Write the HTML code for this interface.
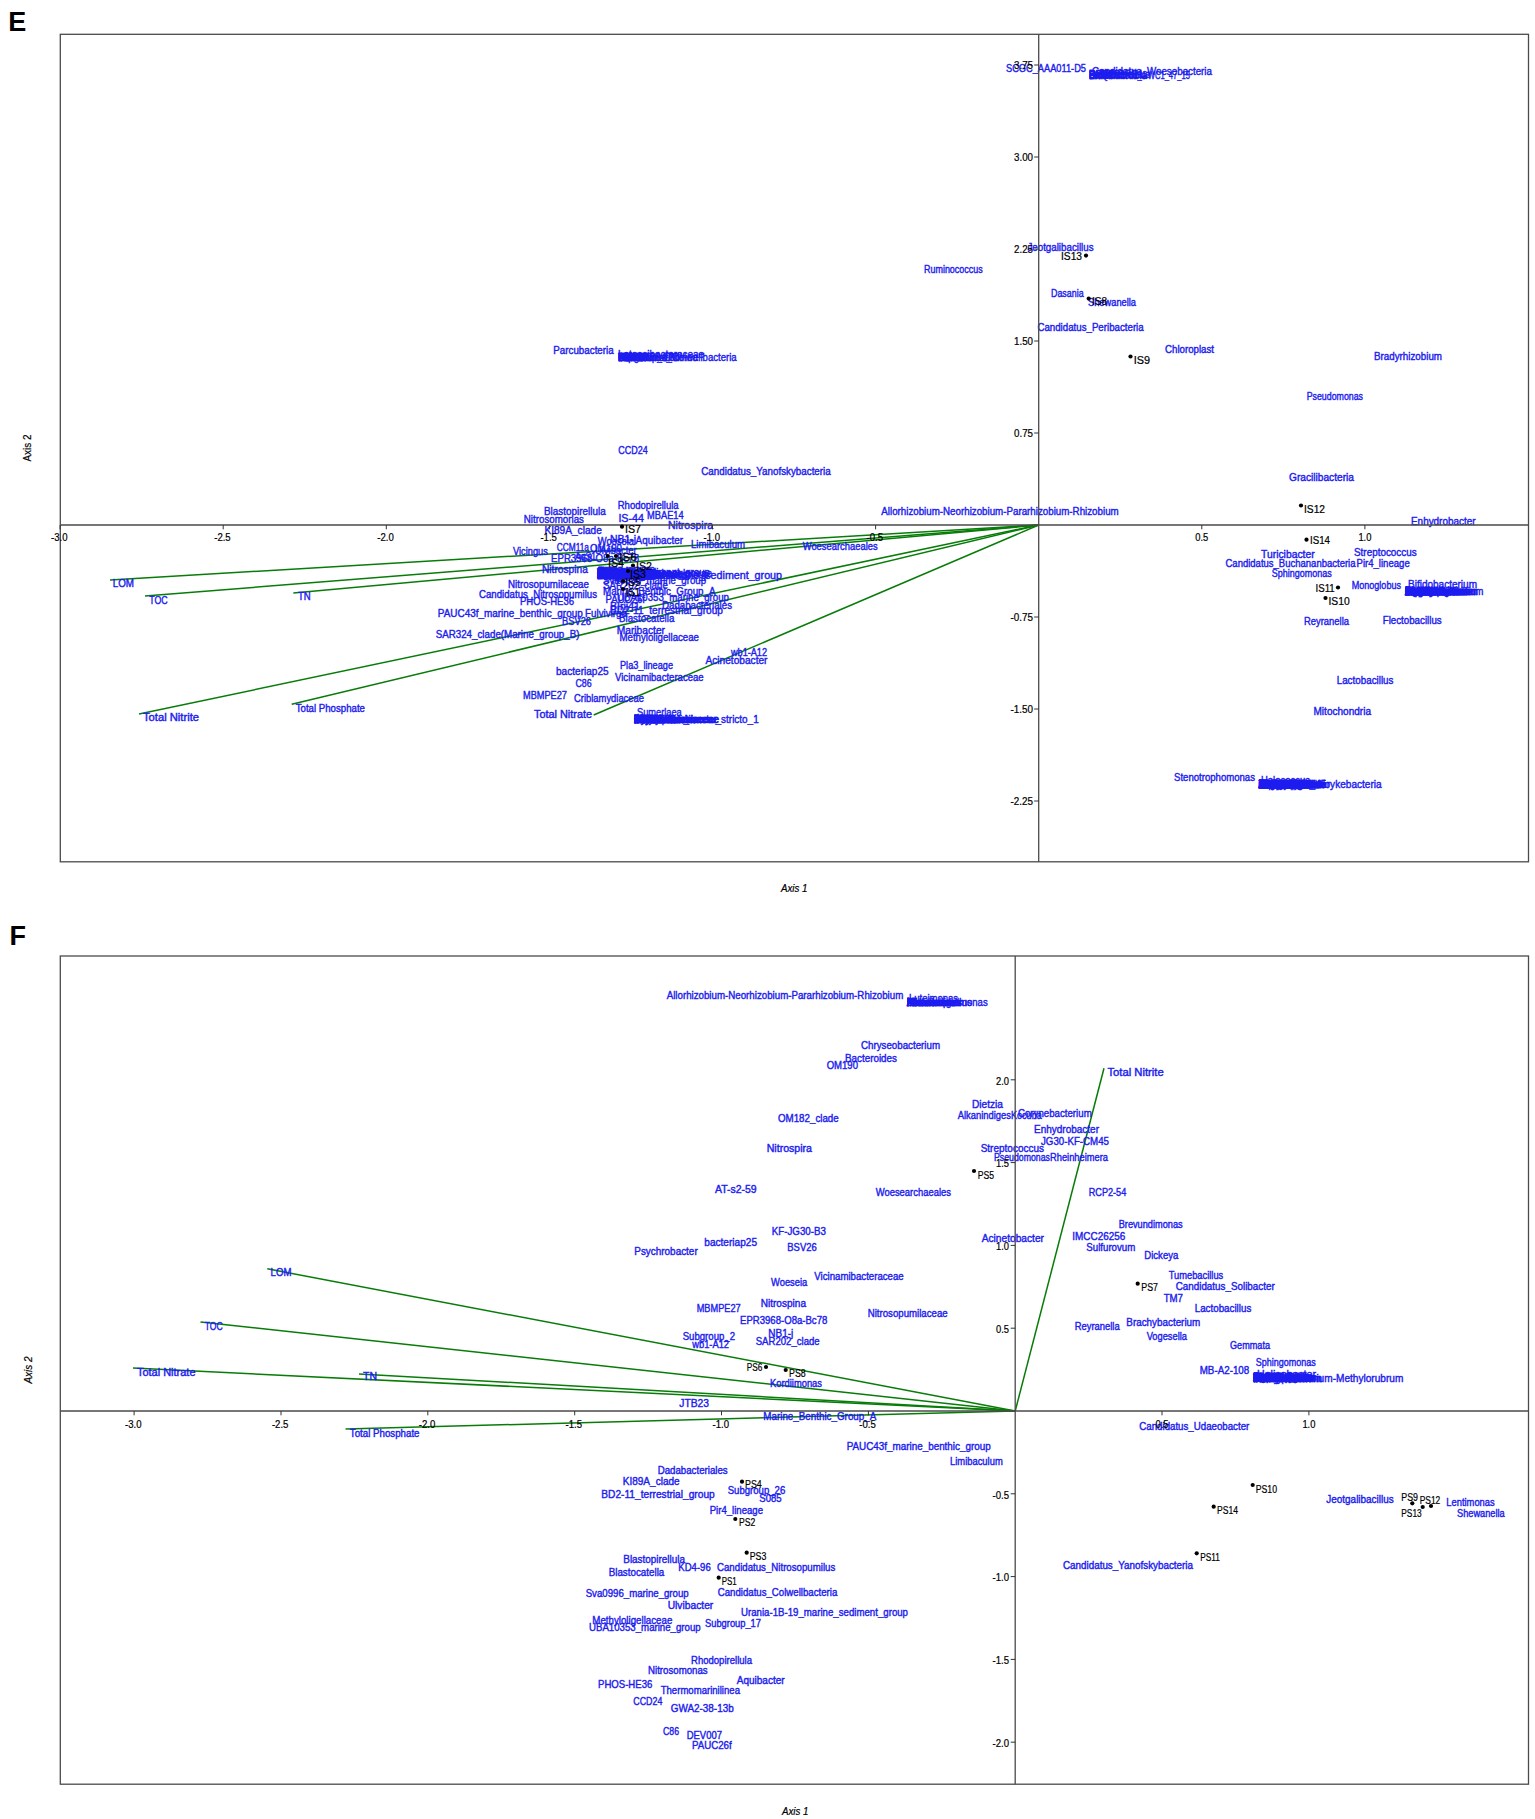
<!DOCTYPE html>
<html lang="en"><head><meta charset="utf-8"><title>Ordination biplots E and F</title>
<style>
html,body{margin:0;padding:0;background:#fff;}
body{width:1535px;height:1819px;overflow:hidden;}
svg{display:block;}
text{font-family:"Liberation Sans",sans-serif;font-size:10.2px;}
text.b{fill:#1c1cf0;stroke:#1c1cf0;stroke-width:0.4px;}
text.k{fill:#000;stroke:#000;stroke-width:0.2px;font-size:10px;}
text.hd{font-weight:bold;font-size:27px;fill:#000;}
</style></head><body>
<svg width="1535" height="1819" viewBox="0 0 1535 1819">
<rect width="1535" height="1819" fill="#fff"/>
<text class="hd" x="8.3" y="30.9">E</text>
<text class="hd" x="9.5" y="945">F</text>
<rect x="60.3" y="34.3" width="1468.2" height="827.5" fill="none" stroke="#4a4a4a" stroke-width="1.3"/>
<line x1="1038.7" y1="525.0" x2="110.0" y2="580.0" stroke="#087c08" stroke-width="1.5"/>
<line x1="1038.7" y1="525.0" x2="145.0" y2="596.0" stroke="#087c08" stroke-width="1.5"/>
<line x1="1038.7" y1="525.0" x2="293.3" y2="593.0" stroke="#087c08" stroke-width="1.5"/>
<line x1="1038.7" y1="525.0" x2="139.0" y2="714.0" stroke="#087c08" stroke-width="1.5"/>
<line x1="1038.7" y1="525.0" x2="291.7" y2="704.3" stroke="#087c08" stroke-width="1.5"/>
<line x1="1038.7" y1="525.0" x2="593.7" y2="715.0" stroke="#087c08" stroke-width="1.5"/>
<text class="b" x="1089.0" y="78.2" textLength="61.3" lengthAdjust="spacingAndGlyphs" font-size="9">Desulfobulbus</text>
<text class="b" x="1089.0" y="78.2" textLength="54.3" lengthAdjust="spacingAndGlyphs" font-size="9">SEEP-SRB1</text>
<text class="b" x="1089.0" y="78.2" textLength="30.6" lengthAdjust="spacingAndGlyphs" font-size="9">B2M28</text>
<text class="b" x="1089.0" y="78.2" textLength="42.5" lengthAdjust="spacingAndGlyphs" font-size="9">Lutibacter</text>
<text class="b" x="618.0" y="360.9" textLength="30.6" lengthAdjust="spacingAndGlyphs" font-size="9">B2M28</text>
<text class="b" x="618.5" y="360.9" textLength="23.7" lengthAdjust="spacingAndGlyphs" font-size="9">AqS1</text>
<text class="b" x="618.2" y="360.9" textLength="27.4" lengthAdjust="spacingAndGlyphs" font-size="9">Haliea</text>
<text class="b" x="597.0" y="575.1" textLength="58.1" lengthAdjust="spacingAndGlyphs" font-size="9">Subgroup_10</text>
<text class="b" x="598.2" y="577.5" textLength="58.1" lengthAdjust="spacingAndGlyphs" font-size="9">Subgroup_22</text>
<text class="b" x="597.8" y="576.1" textLength="52.7" lengthAdjust="spacingAndGlyphs" font-size="9">Subgroup_9</text>
<text class="b" x="597.2" y="578.5" textLength="58.1" lengthAdjust="spacingAndGlyphs" font-size="9">Subgroup_21</text>
<text class="b" x="598.5" y="577.1" textLength="58.1" lengthAdjust="spacingAndGlyphs" font-size="9">Subgroup_23</text>
<text class="b" x="597.5" y="578.2" textLength="61.3" lengthAdjust="spacingAndGlyphs" font-size="9">Desulfobulbus</text>
<text class="b" x="597.0" y="576.8" textLength="64.0" lengthAdjust="spacingAndGlyphs" font-size="9">Desulfosarcina</text>
<text class="b" x="598.2" y="575.4" textLength="54.3" lengthAdjust="spacingAndGlyphs" font-size="9">SEEP-SRB1</text>
<text class="b" x="597.8" y="577.8" textLength="60.7" lengthAdjust="spacingAndGlyphs" font-size="9">Desulfatiglans</text>
<text class="b" x="597.0" y="578.5" textLength="30.6" lengthAdjust="spacingAndGlyphs" font-size="9">B2M28</text>
<text class="b" x="598.2" y="577.1" textLength="23.7" lengthAdjust="spacingAndGlyphs" font-size="9">AqS1</text>
<text class="b" x="597.8" y="575.8" textLength="42.5" lengthAdjust="spacingAndGlyphs" font-size="9">Lutibacter</text>
<text class="b" x="597.2" y="578.2" textLength="44.6" lengthAdjust="spacingAndGlyphs" font-size="9">Lutimonas</text>
<text class="b" x="598.5" y="576.8" textLength="55.9" lengthAdjust="spacingAndGlyphs" font-size="9">Robiginitalea</text>
<text class="b" x="598.0" y="575.4" textLength="50.5" lengthAdjust="spacingAndGlyphs" font-size="9">Halioglobus</text>
<text class="b" x="597.5" y="577.8" textLength="27.4" lengthAdjust="spacingAndGlyphs" font-size="9">Haliea</text>
<text class="b" x="597.0" y="576.5" textLength="60.7" lengthAdjust="spacingAndGlyphs" font-size="9">Sedimenticola</text>
<text class="b" x="598.2" y="575.1" textLength="51.6" lengthAdjust="spacingAndGlyphs" font-size="9">Thiogranum</text>
<text class="b" x="597.0" y="578.2" textLength="62.4" lengthAdjust="spacingAndGlyphs" font-size="9">Spirochaeta_2</text>
<text class="b" x="597.8" y="575.4" textLength="41.9" lengthAdjust="spacingAndGlyphs" font-size="9">Eudoraea</text>
<text class="b" x="597.2" y="577.8" textLength="58.6" lengthAdjust="spacingAndGlyphs" font-size="9">Ilumatobacter</text>
<text class="b" x="598.5" y="576.5" textLength="55.4" lengthAdjust="spacingAndGlyphs" font-size="9">Pirellulaceae</text>
<text class="b" x="598.0" y="575.1" textLength="56.4" lengthAdjust="spacingAndGlyphs" font-size="9">Rubripirellula</text>
<text class="b" x="597.0" y="576.1" textLength="62.4" lengthAdjust="spacingAndGlyphs" font-size="9">Thiohalophilus</text>
<text class="b" x="598.2" y="578.5" textLength="41.4" lengthAdjust="spacingAndGlyphs" font-size="9">SBR1031</text>
<text class="b" x="598.2" y="576.5" textLength="59.7" lengthAdjust="spacingAndGlyphs" font-size="9">Kiloniellaceae</text>
<text class="b" x="598.5" y="576.1" textLength="58.4" lengthAdjust="spacingAndGlyphs" font-size="9">Woeseiaceae</text>
<text class="b" x="598.0" y="578.5" textLength="23.7" lengthAdjust="spacingAndGlyphs" font-size="9">PB19</text>
<text class="b" x="597.5" y="577.1" textLength="52.1" lengthAdjust="spacingAndGlyphs" font-size="9">P9X2b3D02</text>
<text class="b" x="597.0" y="575.8" textLength="35.5" lengthAdjust="spacingAndGlyphs" font-size="9">4572-13</text>
<text class="b" x="597.0" y="575.9" textLength="112.9" lengthAdjust="spacingAndGlyphs" font-size="9">Sva0081_sediment_group</text>
<text class="b" x="598.2" y="578.1" textLength="88.7" lengthAdjust="spacingAndGlyphs" font-size="9">Syntrophobacterales</text>
<text class="b" x="597.8" y="576.9" textLength="84.9" lengthAdjust="spacingAndGlyphs" font-size="9">Desulfosarcinaceae</text>
<text class="b" x="597.2" y="579.1" textLength="76.9" lengthAdjust="spacingAndGlyphs" font-size="9">Zeaxanthinibacter</text>
<text class="b" x="634.0" y="722.7" textLength="41.9" lengthAdjust="spacingAndGlyphs" font-size="9">Eudoraea</text>
<text class="b" x="634.2" y="722.7" textLength="41.4" lengthAdjust="spacingAndGlyphs" font-size="9">SBR1031</text>
<text class="b" x="634.1" y="722.7" textLength="23.7" lengthAdjust="spacingAndGlyphs" font-size="9">PB19</text>
<text class="b" x="634.5" y="722.7" textLength="35.5" lengthAdjust="spacingAndGlyphs" font-size="9">4572-13</text>
<text class="b" x="634.0" y="722.7" textLength="31.7" lengthAdjust="spacingAndGlyphs" font-size="9">MSBL5</text>
<text class="b" x="634.4" y="722.7" textLength="27.9" lengthAdjust="spacingAndGlyphs" font-size="9">SG8-4</text>
<text class="b" x="634.5" y="722.7" textLength="50.0" lengthAdjust="spacingAndGlyphs" font-size="9">Bdellovibrio</text>
<text class="b" x="634.2" y="722.7" textLength="46.2" lengthAdjust="spacingAndGlyphs" font-size="9">Marinicella</text>
<text class="b" x="634.1" y="722.7" textLength="50.5" lengthAdjust="spacingAndGlyphs" font-size="9">Amylibacter</text>
<text class="b" x="633.8" y="722.7" textLength="44.1" lengthAdjust="spacingAndGlyphs" font-size="9">Loktanella</text>
<text class="b" x="634.4" y="722.7" textLength="27.9" lengthAdjust="spacingAndGlyphs" font-size="9">JTB23</text>
<text class="b" x="633.8" y="722.7" textLength="22.6" lengthAdjust="spacingAndGlyphs" font-size="9">S085</text>
<text class="b" x="633.7" y="722.7" textLength="84.9" lengthAdjust="spacingAndGlyphs" font-size="9">Desulfosarcinaceae</text>
<text class="b" x="633.7" y="722.7" textLength="83.8" lengthAdjust="spacingAndGlyphs" font-size="9">Methyloceanibacter</text>
<text class="b" x="633.7" y="722.7" textLength="85.5" lengthAdjust="spacingAndGlyphs" font-size="9">Hyphomicrobiaceae</text>
<text class="b" x="1404.7" y="595.1" textLength="67.7" lengthAdjust="spacingAndGlyphs" font-size="9">Staphylococcus</text>
<text class="b" x="1404.9" y="595.1" textLength="29.6" lengthAdjust="spacingAndGlyphs" font-size="9">Blautia</text>
<text class="b" x="1405.7" y="595.1" textLength="57.5" lengthAdjust="spacingAndGlyphs" font-size="9">Agathobacter</text>
<text class="b" x="1405.4" y="595.1" textLength="43.0" lengthAdjust="spacingAndGlyphs" font-size="9">Prevotella</text>
<text class="b" x="1405.0" y="595.1" textLength="55.9" lengthAdjust="spacingAndGlyphs" font-size="9">Akkermansia</text>
<text class="b" x="1404.7" y="595.1" textLength="44.1" lengthAdjust="spacingAndGlyphs" font-size="9">Roseburia</text>
<text class="b" x="1405.2" y="595.1" textLength="26.3" lengthAdjust="spacingAndGlyphs" font-size="9">Dorea</text>
<text class="b" x="1404.9" y="595.1" textLength="56.4" lengthAdjust="spacingAndGlyphs" font-size="9">Anaerostipes</text>
<text class="b" x="1405.7" y="595.1" textLength="44.1" lengthAdjust="spacingAndGlyphs" font-size="9">Collinsella</text>
<text class="b" x="1405.4" y="595.1" textLength="70.9" lengthAdjust="spacingAndGlyphs" font-size="9">Fusicatenibacter</text>
<text class="b" x="1405.0" y="595.1" textLength="51.6" lengthAdjust="spacingAndGlyphs" font-size="9">Romboutsia</text>
<text class="b" x="1405.5" y="595.1" textLength="56.4" lengthAdjust="spacingAndGlyphs" font-size="9">Haemophilus</text>
<text class="b" x="1405.2" y="595.1" textLength="43.5" lengthAdjust="spacingAndGlyphs" font-size="9">Veillonella</text>
<text class="b" x="1404.9" y="595.1" textLength="34.9" lengthAdjust="spacingAndGlyphs" font-size="9">Dialister</text>
<text class="b" x="1405.7" y="595.1" textLength="56.4" lengthAdjust="spacingAndGlyphs" font-size="9">Coprococcus</text>
<text class="b" x="1405.4" y="595.1" textLength="59.7" lengthAdjust="spacingAndGlyphs" font-size="9">Cutibacterium</text>
<text class="b" x="1405.0" y="595.1" textLength="53.7" lengthAdjust="spacingAndGlyphs" font-size="9">Micrococcus</text>
<text class="b" x="1404.7" y="595.1" textLength="32.8" lengthAdjust="spacingAndGlyphs" font-size="9">Kocuria</text>
<text class="b" x="1405.5" y="595.1" textLength="29.6" lengthAdjust="spacingAndGlyphs" font-size="9">Dietzia</text>
<text class="b" x="1405.2" y="595.1" textLength="67.2" lengthAdjust="spacingAndGlyphs" font-size="9">Brevundimonas</text>
<text class="b" x="1404.9" y="595.1" textLength="54.8" lengthAdjust="spacingAndGlyphs" font-size="9">Alkanindiges</text>
<text class="b" x="1405.7" y="595.1" textLength="60.2" lengthAdjust="spacingAndGlyphs" font-size="9">Rheinheimera</text>
<text class="b" x="1405.4" y="595.1" textLength="57.0" lengthAdjust="spacingAndGlyphs" font-size="9">Macrococcus</text>
<text class="b" x="1405.0" y="595.1" textLength="63.4" lengthAdjust="spacingAndGlyphs" font-size="9">Anaerobacillus</text>
<text class="b" x="1404.7" y="595.1" textLength="50.5" lengthAdjust="spacingAndGlyphs" font-size="9">Paracoccus</text>
<text class="b" x="1405.5" y="595.1" textLength="34.9" lengthAdjust="spacingAndGlyphs" font-size="9">Massilia</text>
<text class="b" x="1405.2" y="595.1" textLength="40.3" lengthAdjust="spacingAndGlyphs" font-size="9">Ralstonia</text>
<text class="b" x="1405.4" y="595.1" textLength="27.4" lengthAdjust="spacingAndGlyphs" font-size="9">Delftia</text>
<text class="b" x="1405.0" y="595.1" textLength="65.0" lengthAdjust="spacingAndGlyphs" font-size="9">Aquabacterium</text>
<text class="b" x="1404.7" y="595.1" textLength="48.4" lengthAdjust="spacingAndGlyphs" font-size="9">Pelomonas</text>
<text class="b" x="1405.5" y="595.1" textLength="33.3" lengthAdjust="spacingAndGlyphs" font-size="9">Bacillus</text>
<text class="b" x="1404.9" y="595.1" textLength="54.8" lengthAdjust="spacingAndGlyphs" font-size="9">Planococcus</text>
<text class="b" x="1405.7" y="595.1" textLength="28.0" lengthAdjust="spacingAndGlyphs" font-size="9">Rothia</text>
<text class="b" x="1258.5" y="787.7" textLength="56.4" lengthAdjust="spacingAndGlyphs" font-size="9">Anaerostipes</text>
<text class="b" x="1259.3" y="787.7" textLength="44.1" lengthAdjust="spacingAndGlyphs" font-size="9">Collinsella</text>
<text class="b" x="1259.0" y="787.7" textLength="70.9" lengthAdjust="spacingAndGlyphs" font-size="9">Fusicatenibacter</text>
<text class="b" x="1258.7" y="787.7" textLength="51.6" lengthAdjust="spacingAndGlyphs" font-size="9">Romboutsia</text>
<text class="b" x="1259.2" y="787.7" textLength="56.4" lengthAdjust="spacingAndGlyphs" font-size="9">Haemophilus</text>
<text class="b" x="1258.8" y="787.7" textLength="43.5" lengthAdjust="spacingAndGlyphs" font-size="9">Veillonella</text>
<text class="b" x="1258.5" y="787.7" textLength="34.9" lengthAdjust="spacingAndGlyphs" font-size="9">Dialister</text>
<text class="b" x="1259.3" y="787.7" textLength="56.4" lengthAdjust="spacingAndGlyphs" font-size="9">Coprococcus</text>
<text class="b" x="1259.0" y="787.7" textLength="59.7" lengthAdjust="spacingAndGlyphs" font-size="9">Cutibacterium</text>
<text class="b" x="1258.7" y="787.7" textLength="53.7" lengthAdjust="spacingAndGlyphs" font-size="9">Micrococcus</text>
<text class="b" x="1259.5" y="787.7" textLength="32.8" lengthAdjust="spacingAndGlyphs" font-size="9">Kocuria</text>
<text class="b" x="1259.2" y="787.7" textLength="29.6" lengthAdjust="spacingAndGlyphs" font-size="9">Dietzia</text>
<text class="b" x="1258.8" y="787.7" textLength="67.2" lengthAdjust="spacingAndGlyphs" font-size="9">Brevundimonas</text>
<text class="b" x="1258.5" y="787.7" textLength="54.8" lengthAdjust="spacingAndGlyphs" font-size="9">Alkanindiges</text>
<text class="b" x="1259.3" y="787.7" textLength="60.2" lengthAdjust="spacingAndGlyphs" font-size="9">Rheinheimera</text>
<text class="b" x="1259.0" y="787.7" textLength="57.0" lengthAdjust="spacingAndGlyphs" font-size="9">Macrococcus</text>
<text class="b" x="1258.7" y="787.7" textLength="63.4" lengthAdjust="spacingAndGlyphs" font-size="9">Anaerobacillus</text>
<text class="b" x="1259.5" y="787.7" textLength="50.5" lengthAdjust="spacingAndGlyphs" font-size="9">Paracoccus</text>
<text class="b" x="1259.2" y="787.7" textLength="34.9" lengthAdjust="spacingAndGlyphs" font-size="9">Massilia</text>
<text class="b" x="1258.8" y="787.7" textLength="40.3" lengthAdjust="spacingAndGlyphs" font-size="9">Ralstonia</text>
<text class="b" x="1259.0" y="787.7" textLength="27.4" lengthAdjust="spacingAndGlyphs" font-size="9">Delftia</text>
<text class="b" x="1258.7" y="787.7" textLength="65.0" lengthAdjust="spacingAndGlyphs" font-size="9">Aquabacterium</text>
<text class="b" x="1259.5" y="787.7" textLength="48.4" lengthAdjust="spacingAndGlyphs" font-size="9">Pelomonas</text>
<text class="b" x="1259.2" y="787.7" textLength="33.3" lengthAdjust="spacingAndGlyphs" font-size="9">Bacillus</text>
<text class="b" x="1258.5" y="787.7" textLength="54.8" lengthAdjust="spacingAndGlyphs" font-size="9">Planococcus</text>
<text class="b" x="1259.3" y="787.7" textLength="28.0" lengthAdjust="spacingAndGlyphs" font-size="9">Rothia</text>
<text class="b" x="1259.0" y="787.7" textLength="40.3" lengthAdjust="spacingAndGlyphs" font-size="9">Neisseria</text>
<text class="b" x="1258.7" y="787.7" textLength="36.0" lengthAdjust="spacingAndGlyphs" font-size="9">Gemella</text>
<text class="b" x="1259.5" y="787.7" textLength="59.1" lengthAdjust="spacingAndGlyphs" font-size="9">Granulicatella</text>
<text class="b" x="1259.2" y="787.7" textLength="54.8" lengthAdjust="spacingAndGlyphs" font-size="9">Actinomyces</text>
<text class="b" x="1258.8" y="787.7" textLength="48.4" lengthAdjust="spacingAndGlyphs" font-size="9">Lawsonella</text>
<text class="b" x="1258.5" y="787.7" textLength="61.3" lengthAdjust="spacingAndGlyphs" font-size="9">Anaerococcus</text>
<text class="b" x="1259.3" y="787.7" textLength="44.6" lengthAdjust="spacingAndGlyphs" font-size="9">Finegoldia</text>
<text class="b" x="1259.0" y="787.7" textLength="58.1" lengthAdjust="spacingAndGlyphs" font-size="9">Peptoniphilus</text>
<text class="b" x="1259.2" y="787.7" textLength="56.6" lengthAdjust="spacingAndGlyphs" font-size="9">Tumebacillus</text>
<text class="b" x="1258.8" y="787.7" textLength="41.9" lengthAdjust="spacingAndGlyphs" font-size="9">Vogesella</text>
<text class="b" x="1258.5" y="787.7" textLength="42.4" lengthAdjust="spacingAndGlyphs" font-size="9">Gemmata</text>
<text class="b" x="1259.3" y="787.7" textLength="34.4" lengthAdjust="spacingAndGlyphs" font-size="9">Dickeya</text>
<text class="b" x="1259.0" y="787.7" textLength="48.9" lengthAdjust="spacingAndGlyphs" font-size="9">Sulfurovum</text>
<text class="b" x="1258.7" y="787.7" textLength="50.0" lengthAdjust="spacingAndGlyphs" font-size="9">Luteimonas</text>
<text class="b" x="1259.5" y="787.7" textLength="51.1" lengthAdjust="spacingAndGlyphs" font-size="9">Bacteroides</text>
<text class="b" x="1259.2" y="787.7" textLength="61.3" lengthAdjust="spacingAndGlyphs" font-size="9">Streptococcus</text>
<text class="b" x="1258.8" y="787.7" textLength="62.9" lengthAdjust="spacingAndGlyphs" font-size="9">Enhydrobacter</text>
<text class="b" x="1258.5" y="787.7" textLength="67.7" lengthAdjust="spacingAndGlyphs" font-size="9">JG30-KF-CM45</text>
<text class="b" x="1259.3" y="787.7" textLength="51.6" lengthAdjust="spacingAndGlyphs" font-size="9">IMCC26256</text>
<text class="b" x="1259.0" y="787.7" textLength="39.8" lengthAdjust="spacingAndGlyphs" font-size="9">RCP2-54</text>
<text class="b" x="1258.7" y="787.7" textLength="19.3" lengthAdjust="spacingAndGlyphs" font-size="9">TM7</text>
<text class="b" x="1259.5" y="787.7" textLength="48.9" lengthAdjust="spacingAndGlyphs" font-size="9">MB-A2-108</text>
<text class="b" x="1006.0" y="71.6" textLength="80.0" lengthAdjust="spacingAndGlyphs">SCGC_AAA011-D5</text>
<text class="b" x="1092.0" y="74.6" textLength="120.0" lengthAdjust="spacingAndGlyphs">Candidatus_Woesebacteria</text>
<text class="b" x="1089.0" y="78.6" textLength="101.0" lengthAdjust="spacingAndGlyphs">Berkelbacteria_GWC1_47_15</text>
<text class="b" x="1089.0" y="78.6" textLength="58.0" lengthAdjust="spacingAndGlyphs">Elusimicrobia</text>
<text class="b" x="1089.0" y="78.6" textLength="24.0" lengthAdjust="spacingAndGlyphs">LWQ8</text>
<text class="b" x="1027.4" y="250.6" textLength="66.2" lengthAdjust="spacingAndGlyphs">Jeotgalibacillus</text>
<text class="b" x="924.0" y="273.2" textLength="58.7" lengthAdjust="spacingAndGlyphs">Ruminococcus</text>
<text class="b" x="1051.0" y="297.2" textLength="32.6" lengthAdjust="spacingAndGlyphs">Dasania</text>
<text class="b" x="1088.0" y="305.9" textLength="48.0" lengthAdjust="spacingAndGlyphs">Shewanella</text>
<text class="b" x="1037.4" y="330.6" textLength="106.3" lengthAdjust="spacingAndGlyphs">Candidatus_Peribacteria</text>
<text class="b" x="1165.0" y="353.1" textLength="49.0" lengthAdjust="spacingAndGlyphs">Chloroplast</text>
<text class="b" x="1374.0" y="359.6" textLength="68.0" lengthAdjust="spacingAndGlyphs">Bradyrhizobium</text>
<text class="b" x="1306.7" y="400.3" textLength="56.3" lengthAdjust="spacingAndGlyphs">Pseudomonas</text>
<text class="b" x="1289.0" y="480.9" textLength="65.0" lengthAdjust="spacingAndGlyphs">Gracilibacteria</text>
<text class="b" x="553.3" y="354.3" textLength="60.4" lengthAdjust="spacingAndGlyphs">Parcubacteria</text>
<text class="b" x="618.0" y="357.6" textLength="86.0" lengthAdjust="spacingAndGlyphs">Latescibacteraceae</text>
<text class="b" x="618.0" y="361.3" textLength="118.7" lengthAdjust="spacingAndGlyphs">Candidatus_Colwellbacteria</text>
<text class="b" x="618.0" y="361.3" textLength="54.0" lengthAdjust="spacingAndGlyphs">Subgroup_17</text>
<text class="b" x="618.0" y="361.3" textLength="62.0" lengthAdjust="spacingAndGlyphs">GWA2-38-13b</text>
<text class="b" x="618.0" y="361.3" textLength="80.0" lengthAdjust="spacingAndGlyphs">Thermomarinilinea</text>
<text class="b" x="618.0" y="361.3" textLength="35.0" lengthAdjust="spacingAndGlyphs">DEV007</text>
<text class="b" x="618.0" y="361.3" textLength="32.0" lengthAdjust="spacingAndGlyphs">KD4-96</text>
<text class="b" x="618.3" y="453.6" textLength="29.4" lengthAdjust="spacingAndGlyphs">CCD24</text>
<text class="b" x="701.3" y="474.6" textLength="129.4" lengthAdjust="spacingAndGlyphs">Candidatus_Yanofskybacteria</text>
<text class="b" x="617.7" y="508.6" textLength="61.0" lengthAdjust="spacingAndGlyphs">Rhodopirellula</text>
<text class="b" x="544.0" y="515.3" textLength="61.7" lengthAdjust="spacingAndGlyphs">Blastopirellula</text>
<text class="b" x="647.0" y="518.6" textLength="36.7" lengthAdjust="spacingAndGlyphs">MBAE14</text>
<text class="b" x="523.8" y="522.5" textLength="60.2" lengthAdjust="spacingAndGlyphs">Nitrosomonas</text>
<text class="b" x="618.4" y="522.0" textLength="25.6" lengthAdjust="spacingAndGlyphs">IS-44</text>
<text class="b" x="668.0" y="528.6" textLength="45.0" lengthAdjust="spacingAndGlyphs">Nitrospira</text>
<text class="b" x="544.4" y="534.0" textLength="57.4" lengthAdjust="spacingAndGlyphs">KI89A_clade</text>
<text class="b" x="610.0" y="542.9" textLength="26.0" lengthAdjust="spacingAndGlyphs">NB1-j</text>
<text class="b" x="635.5" y="543.6" textLength="47.5" lengthAdjust="spacingAndGlyphs">Aquibacter</text>
<text class="b" x="597.8" y="545.1" textLength="36.2" lengthAdjust="spacingAndGlyphs">Woeseia</text>
<text class="b" x="691.0" y="548.0" textLength="54.0" lengthAdjust="spacingAndGlyphs">Limibaculum</text>
<text class="b" x="556.7" y="551.4" textLength="32.3" lengthAdjust="spacingAndGlyphs">CCM11a</text>
<text class="b" x="590.0" y="551.6" textLength="32.0" lengthAdjust="spacingAndGlyphs">OM190</text>
<text class="b" x="595.0" y="553.6" textLength="41.7" lengthAdjust="spacingAndGlyphs">Ulvibacter</text>
<text class="b" x="513.0" y="555.1" textLength="34.8" lengthAdjust="spacingAndGlyphs">Vicingus</text>
<text class="b" x="551.0" y="561.6" textLength="88.0" lengthAdjust="spacingAndGlyphs">EPR3968-O8a-Bc78</text>
<text class="b" x="575.0" y="559.6" textLength="21.0" lengthAdjust="spacingAndGlyphs">AqS1</text>
<text class="b" x="542.0" y="573.1" textLength="45.8" lengthAdjust="spacingAndGlyphs">Nitrospina</text>
<text class="b" x="597.0" y="578.6" textLength="185.0" lengthAdjust="spacingAndGlyphs">Urania-1B-19_marine_sediment_group</text>
<text class="b" x="597.0" y="576.6" textLength="58.0" lengthAdjust="spacingAndGlyphs">Subgroup_26</text>
<text class="b" x="597.0" y="576.6" textLength="115.0" lengthAdjust="spacingAndGlyphs">Thermoanaerobaculaceae</text>
<text class="b" x="597.0" y="577.6" textLength="112.0" lengthAdjust="spacingAndGlyphs">UBA10353_marine_group</text>
<text class="b" x="597.0" y="578.6" textLength="53.0" lengthAdjust="spacingAndGlyphs">Pir4_lineage</text>
<text class="b" x="597.0" y="577.6" textLength="30.0" lengthAdjust="spacingAndGlyphs">JTB23</text>
<text class="b" x="597.0" y="578.6" textLength="52.0" lengthAdjust="spacingAndGlyphs">Kordiimonas</text>
<text class="b" x="597.0" y="576.6" textLength="22.0" lengthAdjust="spacingAndGlyphs">S085</text>
<text class="b" x="597.0" y="578.1" textLength="52.0" lengthAdjust="spacingAndGlyphs">Subgroup_2</text>
<text class="b" x="597.0" y="578.4" textLength="63.0" lengthAdjust="spacingAndGlyphs">Psychrobacter</text>
<text class="b" x="597.0" y="577.1" textLength="54.0" lengthAdjust="spacingAndGlyphs">KF-JG30-B3</text>
<text class="b" x="597.0" y="578.1" textLength="42.0" lengthAdjust="spacingAndGlyphs">AT-s2-59</text>
<text class="b" x="603.0" y="583.6" textLength="103.0" lengthAdjust="spacingAndGlyphs">Sva0996_marine_group</text>
<text class="b" x="508.0" y="588.0" textLength="81.0" lengthAdjust="spacingAndGlyphs">Nitrosopumilaceae</text>
<text class="b" x="603.0" y="588.6" textLength="64.8" lengthAdjust="spacingAndGlyphs">SAR202_clade</text>
<text class="b" x="479.0" y="598.0" textLength="118.0" lengthAdjust="spacingAndGlyphs">Candidatus_Nitrosopumilus</text>
<text class="b" x="603.0" y="594.6" textLength="112.5" lengthAdjust="spacingAndGlyphs">Marine_Benthic_Group_A</text>
<text class="b" x="520.0" y="605.4" textLength="54.0" lengthAdjust="spacingAndGlyphs">PHOS-HE36</text>
<text class="b" x="605.5" y="602.6" textLength="39.5" lengthAdjust="spacingAndGlyphs">PAUC26f</text>
<text class="b" x="617.0" y="600.6" textLength="112.0" lengthAdjust="spacingAndGlyphs">UBA10353_marine_group</text>
<text class="b" x="662.0" y="609.1" textLength="70.0" lengthAdjust="spacingAndGlyphs">Dadabacteriales</text>
<text class="b" x="610.0" y="613.6" textLength="113.0" lengthAdjust="spacingAndGlyphs">BD2-11_terrestrial_group</text>
<text class="b" x="610.0" y="610.3" textLength="30.0" lengthAdjust="spacingAndGlyphs">BIrii41</text>
<text class="b" x="437.8" y="617.4" textLength="144.9" lengthAdjust="spacingAndGlyphs">PAUC43f_marine_benthic_group</text>
<text class="b" x="585.0" y="616.6" textLength="42.0" lengthAdjust="spacingAndGlyphs">Fulvivirga</text>
<text class="b" x="619.0" y="621.6" textLength="55.4" lengthAdjust="spacingAndGlyphs">Blastocatella</text>
<text class="b" x="562.0" y="625.1" textLength="29.0" lengthAdjust="spacingAndGlyphs">BSV26</text>
<text class="b" x="616.7" y="633.6" textLength="48.3" lengthAdjust="spacingAndGlyphs">Maribacter</text>
<text class="b" x="435.7" y="638.1" textLength="143.8" lengthAdjust="spacingAndGlyphs">SAR324_clade(Marine_group_B)</text>
<text class="b" x="619.5" y="641.1" textLength="79.5" lengthAdjust="spacingAndGlyphs">Methyloligellaceae</text>
<text class="b" x="731.0" y="655.6" textLength="36.0" lengthAdjust="spacingAndGlyphs">wb1-A12</text>
<text class="b" x="705.5" y="663.6" textLength="62.0" lengthAdjust="spacingAndGlyphs">Acinetobacter</text>
<text class="b" x="620.0" y="668.6" textLength="53.0" lengthAdjust="spacingAndGlyphs">Pla3_lineage</text>
<text class="b" x="556.0" y="674.6" textLength="52.7" lengthAdjust="spacingAndGlyphs">bacteriap25</text>
<text class="b" x="615.0" y="680.6" textLength="88.7" lengthAdjust="spacingAndGlyphs">Vicinamibacteraceae</text>
<text class="b" x="575.5" y="687.3" textLength="16.2" lengthAdjust="spacingAndGlyphs">C86</text>
<text class="b" x="523.0" y="698.6" textLength="44.0" lengthAdjust="spacingAndGlyphs">MBMPE27</text>
<text class="b" x="574.0" y="701.6" textLength="70.0" lengthAdjust="spacingAndGlyphs">Criblamydiaceae</text>
<text class="b" x="534.0" y="718.1" textLength="58.0" lengthAdjust="spacingAndGlyphs">Total Nitrate</text>
<text class="b" x="637.0" y="715.6" textLength="44.7" lengthAdjust="spacingAndGlyphs">Sumerlaea</text>
<text class="b" x="633.7" y="723.1" textLength="125.0" lengthAdjust="spacingAndGlyphs">Clostridium_sensu_stricto_1</text>
<text class="b" x="633.7" y="723.1" textLength="78.3" lengthAdjust="spacingAndGlyphs">Phycisphaeraceae</text>
<text class="b" x="633.7" y="723.1" textLength="63.3" lengthAdjust="spacingAndGlyphs">Psychrobacter</text>
<text class="b" x="633.7" y="723.1" textLength="69.3" lengthAdjust="spacingAndGlyphs">Planococcaceae</text>
<text class="b" x="633.7" y="723.1" textLength="56.3" lengthAdjust="spacingAndGlyphs">Polaribacter</text>
<text class="b" x="881.3" y="515.3" textLength="237.4" lengthAdjust="spacingAndGlyphs">Allorhizobium-Neorhizobium-Pararhizobium-Rhizobium</text>
<text class="b" x="802.7" y="550.3" textLength="75.0" lengthAdjust="spacingAndGlyphs">Woesearchaeales</text>
<text class="b" x="112.7" y="586.9" textLength="21.3" lengthAdjust="spacingAndGlyphs">LOM</text>
<text class="b" x="149.3" y="603.6" textLength="18.4" lengthAdjust="spacingAndGlyphs">TOC</text>
<text class="b" x="298.0" y="600.3" textLength="12.7" lengthAdjust="spacingAndGlyphs">TN</text>
<text class="b" x="143.0" y="721.3" textLength="56.0" lengthAdjust="spacingAndGlyphs">Total Nitrite</text>
<text class="b" x="295.7" y="711.9" textLength="69.3" lengthAdjust="spacingAndGlyphs">Total Phosphate</text>
<text class="b" x="1411.0" y="525.1" textLength="64.5" lengthAdjust="spacingAndGlyphs">Enhydrobacter</text>
<text class="b" x="1261.0" y="557.6" textLength="53.7" lengthAdjust="spacingAndGlyphs">Turicibacter</text>
<text class="b" x="1354.0" y="556.1" textLength="62.7" lengthAdjust="spacingAndGlyphs">Streptococcus</text>
<text class="b" x="1225.5" y="566.6" textLength="130.0" lengthAdjust="spacingAndGlyphs">Candidatus_Buchananbacteria</text>
<text class="b" x="1356.5" y="567.3" textLength="53.2" lengthAdjust="spacingAndGlyphs">Pir4_lineage</text>
<text class="b" x="1271.7" y="577.3" textLength="60.0" lengthAdjust="spacingAndGlyphs">Sphingomonas</text>
<text class="b" x="1351.7" y="588.6" textLength="49.3" lengthAdjust="spacingAndGlyphs">Monoglobus</text>
<text class="b" x="1408.0" y="588.1" textLength="69.0" lengthAdjust="spacingAndGlyphs">Bifidobacterium</text>
<text class="b" x="1404.7" y="595.3" textLength="78.8" lengthAdjust="spacingAndGlyphs">Propionibacterium</text>
<text class="b" x="1404.7" y="595.3" textLength="65.3" lengthAdjust="spacingAndGlyphs">Staphylococcus</text>
<text class="b" x="1404.7" y="595.3" textLength="73.3" lengthAdjust="spacingAndGlyphs">Corynebacterium</text>
<text class="b" x="1404.7" y="595.3" textLength="71.3" lengthAdjust="spacingAndGlyphs">Faecalibacterium</text>
<text class="b" x="1404.7" y="595.3" textLength="31.3" lengthAdjust="spacingAndGlyphs">Blautia</text>
<text class="b" x="1304.0" y="625.3" textLength="45.0" lengthAdjust="spacingAndGlyphs">Reyranella</text>
<text class="b" x="1382.7" y="624.3" textLength="59.0" lengthAdjust="spacingAndGlyphs">Flectobacillus</text>
<text class="b" x="1336.7" y="684.1" textLength="56.8" lengthAdjust="spacingAndGlyphs">Lactobacillus</text>
<text class="b" x="1313.5" y="714.6" textLength="57.5" lengthAdjust="spacingAndGlyphs">Mitochondria</text>
<text class="b" x="1174.0" y="780.6" textLength="81.0" lengthAdjust="spacingAndGlyphs">Stenotrophomonas</text>
<text class="b" x="1261.0" y="783.6" textLength="49.0" lengthAdjust="spacingAndGlyphs">Halococcus</text>
<text class="b" x="1258.5" y="788.1" textLength="123.2" lengthAdjust="spacingAndGlyphs">Candidatus_Woykebacteria</text>
<text class="b" x="1258.5" y="788.1" textLength="55.5" lengthAdjust="spacingAndGlyphs">Macrococcus</text>
<text class="b" x="1258.5" y="788.1" textLength="65.5" lengthAdjust="spacingAndGlyphs">Anaerobacillus</text>
<text class="b" x="1258.5" y="788.1" textLength="53.5" lengthAdjust="spacingAndGlyphs">Micrococcus</text>
<text class="b" x="1258.5" y="788.1" textLength="64.5" lengthAdjust="spacingAndGlyphs">Brevundimonas</text>
<text class="b" x="1258.5" y="788.1" textLength="53.5" lengthAdjust="spacingAndGlyphs">Alkanindiges</text>
<text class="b" x="1258.5" y="788.1" textLength="58.5" lengthAdjust="spacingAndGlyphs">Rheinheimera</text>
<text class="b" x="1258.5" y="788.1" textLength="67.5" lengthAdjust="spacingAndGlyphs">JG30-KF-CM45</text>
<line x1="1038.7" y1="34.3" x2="1038.7" y2="861.8" stroke="#4a4a4a" stroke-width="1.3"/>
<line x1="60.3" y1="525.0" x2="1528.5" y2="525.0" stroke="#4a4a4a" stroke-width="1.3"/>
<line x1="60.1" y1="525.0" x2="60.1" y2="529.3" stroke="#333" stroke-width="1"/>
<text class="k" x="51.1" y="541.1" textLength="16.5" lengthAdjust="spacingAndGlyphs">-3.0</text>
<line x1="223.2" y1="525.0" x2="223.2" y2="529.3" stroke="#333" stroke-width="1"/>
<text class="k" x="214.2" y="541.1" textLength="16.5" lengthAdjust="spacingAndGlyphs">-2.5</text>
<line x1="386.3" y1="525.0" x2="386.3" y2="529.3" stroke="#333" stroke-width="1"/>
<text class="k" x="377.3" y="541.1" textLength="16.5" lengthAdjust="spacingAndGlyphs">-2.0</text>
<line x1="549.4" y1="525.0" x2="549.4" y2="529.3" stroke="#333" stroke-width="1"/>
<text class="k" x="540.4" y="541.1" textLength="16.5" lengthAdjust="spacingAndGlyphs">-1.5</text>
<line x1="712.5" y1="525.0" x2="712.5" y2="529.3" stroke="#333" stroke-width="1"/>
<text class="k" x="703.5" y="541.1" textLength="16.5" lengthAdjust="spacingAndGlyphs">-1.0</text>
<line x1="875.6" y1="525.0" x2="875.6" y2="529.3" stroke="#333" stroke-width="1"/>
<text class="k" x="866.6" y="541.1" textLength="16.5" lengthAdjust="spacingAndGlyphs">-0.5</text>
<line x1="1201.8" y1="525.0" x2="1201.8" y2="529.3" stroke="#333" stroke-width="1"/>
<text class="k" x="1195.3" y="541.1" textLength="13.0" lengthAdjust="spacingAndGlyphs">0.5</text>
<line x1="1364.9" y1="525.0" x2="1364.9" y2="529.3" stroke="#333" stroke-width="1"/>
<text class="k" x="1358.4" y="541.1" textLength="13.0" lengthAdjust="spacingAndGlyphs">1.0</text>
<line x1="1034.2" y1="65.0" x2="1038.7" y2="65.0" stroke="#333" stroke-width="1"/>
<text class="k" x="1014.0" y="69.4" textLength="19.0" lengthAdjust="spacingAndGlyphs">3.75</text>
<line x1="1034.2" y1="157.0" x2="1038.7" y2="157.0" stroke="#333" stroke-width="1"/>
<text class="k" x="1014.0" y="161.4" textLength="19.0" lengthAdjust="spacingAndGlyphs">3.00</text>
<line x1="1034.2" y1="249.0" x2="1038.7" y2="249.0" stroke="#333" stroke-width="1"/>
<text class="k" x="1014.0" y="253.4" textLength="19.0" lengthAdjust="spacingAndGlyphs">2.25</text>
<line x1="1034.2" y1="341.0" x2="1038.7" y2="341.0" stroke="#333" stroke-width="1"/>
<text class="k" x="1014.0" y="345.4" textLength="19.0" lengthAdjust="spacingAndGlyphs">1.50</text>
<line x1="1034.2" y1="433.0" x2="1038.7" y2="433.0" stroke="#333" stroke-width="1"/>
<text class="k" x="1014.0" y="437.4" textLength="19.0" lengthAdjust="spacingAndGlyphs">0.75</text>
<line x1="1034.2" y1="617.0" x2="1038.7" y2="617.0" stroke="#333" stroke-width="1"/>
<text class="k" x="1010.5" y="621.4" textLength="22.5" lengthAdjust="spacingAndGlyphs">-0.75</text>
<line x1="1034.2" y1="709.0" x2="1038.7" y2="709.0" stroke="#333" stroke-width="1"/>
<text class="k" x="1010.5" y="713.4" textLength="22.5" lengthAdjust="spacingAndGlyphs">-1.50</text>
<line x1="1034.2" y1="801.0" x2="1038.7" y2="801.0" stroke="#333" stroke-width="1"/>
<text class="k" x="1010.5" y="805.4" textLength="22.5" lengthAdjust="spacingAndGlyphs">-2.25</text>
<circle cx="1086.0" cy="255.6" r="2.1" fill="#000"/>
<text class="k" x="1061.0" y="260.0" textLength="21.0" lengthAdjust="spacingAndGlyphs" font-size="9.8">IS13</text>
<circle cx="1088.7" cy="298.6" r="2.1" fill="#000"/>
<text class="k" x="1092.0" y="304.6" textLength="15.0" lengthAdjust="spacingAndGlyphs" font-size="9.8">IS8</text>
<circle cx="1130.5" cy="356.5" r="2.1" fill="#000"/>
<text class="k" x="1133.7" y="363.6" textLength="16.3" lengthAdjust="spacingAndGlyphs" font-size="9.8">IS9</text>
<circle cx="622.0" cy="526.7" r="2.1" fill="#000"/>
<text class="k" x="625.0" y="533.1" textLength="16.0" lengthAdjust="spacingAndGlyphs" font-size="9.8">IS7</text>
<circle cx="1301.0" cy="505.5" r="2.1" fill="#000"/>
<text class="k" x="1304.0" y="513.1" textLength="21.0" lengthAdjust="spacingAndGlyphs" font-size="9.8">IS12</text>
<circle cx="1306.5" cy="539.7" r="2.1" fill="#000"/>
<text class="k" x="1310.0" y="544.1" textLength="20.0" lengthAdjust="spacingAndGlyphs" font-size="9.8">IS14</text>
<circle cx="1338.0" cy="587.5" r="2.1" fill="#000"/>
<text class="k" x="1315.5" y="591.6" textLength="19.2" lengthAdjust="spacingAndGlyphs" font-size="9.8">IS11</text>
<circle cx="1325.5" cy="598.0" r="2.1" fill="#000"/>
<text class="k" x="1328.5" y="605.3" textLength="21.2" lengthAdjust="spacingAndGlyphs" font-size="9.8">IS10</text>
<circle cx="607.8" cy="556.0" r="2.1" fill="#000"/>
<text class="k" x="608.0" y="566.6" textLength="16.0" lengthAdjust="spacingAndGlyphs" font-size="9.8">IS4</text>
<circle cx="616.0" cy="556.0" r="2.1" fill="#000"/>
<text class="k" x="619.0" y="560.6" textLength="18.0" lengthAdjust="spacingAndGlyphs" font-size="9.8">IS6</text>
<circle cx="633.0" cy="565.5" r="2.1" fill="#000"/>
<text class="k" x="636.0" y="569.6" textLength="16.0" lengthAdjust="spacingAndGlyphs" font-size="9.8">IS2</text>
<circle cx="628.0" cy="571.0" r="2.1" fill="#000"/>
<text class="k" x="630.0" y="577.6" textLength="16.0" lengthAdjust="spacingAndGlyphs" font-size="9.8">IS3</text>
<circle cx="623.0" cy="581.0" r="2.1" fill="#000"/>
<text class="k" x="625.0" y="585.6" textLength="16.0" lengthAdjust="spacingAndGlyphs" font-size="9.8">IS5</text>
<circle cx="623.0" cy="589.0" r="2.1" fill="#000"/>
<text class="k" x="626.0" y="595.6" textLength="14.0" lengthAdjust="spacingAndGlyphs" font-size="9.8">IS1</text>
<text class="k" font-style="italic" x="781" y="892.2" textLength="26.5" lengthAdjust="spacingAndGlyphs">Axis 1</text>
<text class="k" transform="translate(31.3,448) rotate(-90)" x="-13.5" y="0" textLength="27" lengthAdjust="spacingAndGlyphs">Axis 2</text>
<rect x="60.3" y="956" width="1468.2" height="828.2" fill="none" stroke="#4a4a4a" stroke-width="1.3"/>
<line x1="1015.2" y1="1411.0" x2="267.3" y2="1268.8" stroke="#087c08" stroke-width="1.5"/>
<line x1="1015.2" y1="1411.0" x2="200.5" y2="1322.0" stroke="#087c08" stroke-width="1.5"/>
<line x1="1015.2" y1="1411.0" x2="133.0" y2="1368.0" stroke="#087c08" stroke-width="1.5"/>
<line x1="1015.2" y1="1411.0" x2="359.0" y2="1373.9" stroke="#087c08" stroke-width="1.5"/>
<line x1="1015.2" y1="1411.0" x2="345.6" y2="1429.0" stroke="#087c08" stroke-width="1.5"/>
<line x1="1015.2" y1="1411.0" x2="1104.0" y2="1068.3" stroke="#087c08" stroke-width="1.5"/>
<text class="b" x="1253.2" y="1381.2" textLength="29.6" lengthAdjust="spacingAndGlyphs" font-size="9">Blautia</text>
<text class="b" x="1254.0" y="1381.2" textLength="57.5" lengthAdjust="spacingAndGlyphs" font-size="9">Agathobacter</text>
<text class="b" x="1253.7" y="1381.2" textLength="43.0" lengthAdjust="spacingAndGlyphs" font-size="9">Prevotella</text>
<text class="b" x="1253.3" y="1381.2" textLength="55.9" lengthAdjust="spacingAndGlyphs" font-size="9">Akkermansia</text>
<text class="b" x="1253.0" y="1381.2" textLength="44.1" lengthAdjust="spacingAndGlyphs" font-size="9">Roseburia</text>
<text class="b" x="1253.5" y="1381.2" textLength="26.3" lengthAdjust="spacingAndGlyphs" font-size="9">Dorea</text>
<text class="b" x="1253.2" y="1381.2" textLength="56.4" lengthAdjust="spacingAndGlyphs" font-size="9">Anaerostipes</text>
<text class="b" x="1254.0" y="1381.2" textLength="44.1" lengthAdjust="spacingAndGlyphs" font-size="9">Collinsella</text>
<text class="b" x="1253.3" y="1381.2" textLength="51.6" lengthAdjust="spacingAndGlyphs" font-size="9">Romboutsia</text>
<text class="b" x="1253.8" y="1381.2" textLength="56.4" lengthAdjust="spacingAndGlyphs" font-size="9">Haemophilus</text>
<text class="b" x="1253.5" y="1381.2" textLength="43.5" lengthAdjust="spacingAndGlyphs" font-size="9">Veillonella</text>
<text class="b" x="1253.2" y="1381.2" textLength="34.9" lengthAdjust="spacingAndGlyphs" font-size="9">Dialister</text>
<text class="b" x="1254.0" y="1381.2" textLength="56.4" lengthAdjust="spacingAndGlyphs" font-size="9">Coprococcus</text>
<text class="b" x="1253.7" y="1381.2" textLength="59.7" lengthAdjust="spacingAndGlyphs" font-size="9">Cutibacterium</text>
<text class="b" x="1253.3" y="1381.2" textLength="53.7" lengthAdjust="spacingAndGlyphs" font-size="9">Micrococcus</text>
<text class="b" x="1253.0" y="1381.2" textLength="32.8" lengthAdjust="spacingAndGlyphs" font-size="9">Kocuria</text>
<text class="b" x="1253.8" y="1381.2" textLength="29.6" lengthAdjust="spacingAndGlyphs" font-size="9">Dietzia</text>
<text class="b" x="1253.2" y="1381.2" textLength="54.8" lengthAdjust="spacingAndGlyphs" font-size="9">Alkanindiges</text>
<text class="b" x="1254.0" y="1381.2" textLength="60.2" lengthAdjust="spacingAndGlyphs" font-size="9">Rheinheimera</text>
<text class="b" x="1253.7" y="1381.2" textLength="57.0" lengthAdjust="spacingAndGlyphs" font-size="9">Macrococcus</text>
<text class="b" x="1253.3" y="1381.2" textLength="63.4" lengthAdjust="spacingAndGlyphs" font-size="9">Anaerobacillus</text>
<text class="b" x="1253.0" y="1381.2" textLength="50.5" lengthAdjust="spacingAndGlyphs" font-size="9">Paracoccus</text>
<text class="b" x="1253.8" y="1381.2" textLength="34.9" lengthAdjust="spacingAndGlyphs" font-size="9">Massilia</text>
<text class="b" x="1253.5" y="1381.2" textLength="40.3" lengthAdjust="spacingAndGlyphs" font-size="9">Ralstonia</text>
<text class="b" x="1253.7" y="1381.2" textLength="27.4" lengthAdjust="spacingAndGlyphs" font-size="9">Delftia</text>
<text class="b" x="1253.0" y="1381.2" textLength="48.4" lengthAdjust="spacingAndGlyphs" font-size="9">Pelomonas</text>
<text class="b" x="1253.8" y="1381.2" textLength="33.3" lengthAdjust="spacingAndGlyphs" font-size="9">Bacillus</text>
<text class="b" x="1253.2" y="1381.2" textLength="54.8" lengthAdjust="spacingAndGlyphs" font-size="9">Planococcus</text>
<text class="b" x="1254.0" y="1381.2" textLength="28.0" lengthAdjust="spacingAndGlyphs" font-size="9">Rothia</text>
<text class="b" x="1253.7" y="1381.2" textLength="40.3" lengthAdjust="spacingAndGlyphs" font-size="9">Neisseria</text>
<text class="b" x="1253.3" y="1381.2" textLength="36.0" lengthAdjust="spacingAndGlyphs" font-size="9">Gemella</text>
<text class="b" x="1253.0" y="1381.2" textLength="59.1" lengthAdjust="spacingAndGlyphs" font-size="9">Granulicatella</text>
<text class="b" x="1253.8" y="1381.2" textLength="54.8" lengthAdjust="spacingAndGlyphs" font-size="9">Actinomyces</text>
<text class="b" x="1253.5" y="1381.2" textLength="48.4" lengthAdjust="spacingAndGlyphs" font-size="9">Lawsonella</text>
<text class="b" x="906.7" y="1005.5" textLength="53.7" lengthAdjust="spacingAndGlyphs" font-size="9">Micrococcus</text>
<text class="b" x="906.7" y="1005.5" textLength="32.8" lengthAdjust="spacingAndGlyphs" font-size="9">Kocuria</text>
<text class="b" x="906.7" y="1005.5" textLength="29.6" lengthAdjust="spacingAndGlyphs" font-size="9">Dietzia</text>
<text class="b" x="906.7" y="1005.5" textLength="54.8" lengthAdjust="spacingAndGlyphs" font-size="9">Alkanindiges</text>
<text class="b" x="666.7" y="998.6" textLength="236.6" lengthAdjust="spacingAndGlyphs">Allorhizobium-Neorhizobium-Pararhizobium-Rhizobium</text>
<text class="b" x="909.0" y="1001.6" textLength="49.0" lengthAdjust="spacingAndGlyphs">Luteimonas</text>
<text class="b" x="906.7" y="1005.9" textLength="81.0" lengthAdjust="spacingAndGlyphs">Stenotrophomonas</text>
<text class="b" x="906.7" y="1005.9" textLength="55.3" lengthAdjust="spacingAndGlyphs">Macrococcus</text>
<text class="b" x="906.7" y="1005.9" textLength="65.3" lengthAdjust="spacingAndGlyphs">Anaerobacillus</text>
<text class="b" x="906.7" y="1005.9" textLength="53.3" lengthAdjust="spacingAndGlyphs">Micrococcus</text>
<text class="b" x="906.7" y="1005.9" textLength="49.3" lengthAdjust="spacingAndGlyphs">Halococcus</text>
<text class="b" x="861.0" y="1048.6" textLength="79.0" lengthAdjust="spacingAndGlyphs">Chryseobacterium</text>
<text class="b" x="845.0" y="1061.6" textLength="52.0" lengthAdjust="spacingAndGlyphs">Bacteroides</text>
<text class="b" x="826.7" y="1069.3" textLength="31.3" lengthAdjust="spacingAndGlyphs">OM190</text>
<text class="b" x="1107.5" y="1076.1" textLength="56.2" lengthAdjust="spacingAndGlyphs">Total Nitrite</text>
<text class="b" x="972.0" y="1107.6" textLength="31.0" lengthAdjust="spacingAndGlyphs">Dietzia</text>
<text class="b" x="957.7" y="1118.6" textLength="53.3" lengthAdjust="spacingAndGlyphs">Alkanindiges</text>
<text class="b" x="1011.0" y="1118.6" textLength="30.7" lengthAdjust="spacingAndGlyphs">Kocuria</text>
<text class="b" x="1018.0" y="1116.6" textLength="73.7" lengthAdjust="spacingAndGlyphs">Corynebacterium</text>
<text class="b" x="778.0" y="1121.6" textLength="60.7" lengthAdjust="spacingAndGlyphs">OM182_clade</text>
<text class="b" x="1034.0" y="1132.6" textLength="65.0" lengthAdjust="spacingAndGlyphs">Enhydrobacter</text>
<text class="b" x="1041.0" y="1144.6" textLength="68.0" lengthAdjust="spacingAndGlyphs">JG30-KF-CM45</text>
<text class="b" x="766.7" y="1151.6" textLength="45.3" lengthAdjust="spacingAndGlyphs">Nitrospira</text>
<text class="b" x="980.7" y="1151.6" textLength="63.3" lengthAdjust="spacingAndGlyphs">Streptococcus</text>
<text class="b" x="994.0" y="1161.3" textLength="56.0" lengthAdjust="spacingAndGlyphs">Pseudomonas</text>
<text class="b" x="1050.0" y="1160.6" textLength="58.0" lengthAdjust="spacingAndGlyphs">Rheinheimera</text>
<text class="b" x="715.0" y="1192.6" textLength="41.7" lengthAdjust="spacingAndGlyphs">AT-s2-59</text>
<text class="b" x="875.7" y="1196.3" textLength="75.3" lengthAdjust="spacingAndGlyphs">Woesearchaeales</text>
<text class="b" x="1088.7" y="1196.3" textLength="37.6" lengthAdjust="spacingAndGlyphs">RCP2-54</text>
<text class="b" x="771.7" y="1234.6" textLength="54.3" lengthAdjust="spacingAndGlyphs">KF-JG30-B3</text>
<text class="b" x="1118.7" y="1228.3" textLength="64.0" lengthAdjust="spacingAndGlyphs">Brevundimonas</text>
<text class="b" x="1072.3" y="1240.3" textLength="53.0" lengthAdjust="spacingAndGlyphs">IMCC26256</text>
<text class="b" x="981.7" y="1241.9" textLength="62.3" lengthAdjust="spacingAndGlyphs">Acinetobacter</text>
<text class="b" x="704.3" y="1246.3" textLength="52.7" lengthAdjust="spacingAndGlyphs">bacteriap25</text>
<text class="b" x="787.3" y="1250.9" textLength="29.4" lengthAdjust="spacingAndGlyphs">BSV26</text>
<text class="b" x="1086.3" y="1250.9" textLength="49.0" lengthAdjust="spacingAndGlyphs">Sulfurovum</text>
<text class="b" x="634.3" y="1254.9" textLength="63.4" lengthAdjust="spacingAndGlyphs">Psychrobacter</text>
<text class="b" x="1144.3" y="1258.9" textLength="34.0" lengthAdjust="spacingAndGlyphs">Dickeya</text>
<text class="b" x="814.3" y="1279.9" textLength="89.4" lengthAdjust="spacingAndGlyphs">Vicinamibacteraceae</text>
<text class="b" x="1168.7" y="1279.3" textLength="54.6" lengthAdjust="spacingAndGlyphs">Tumebacillus</text>
<text class="b" x="771.0" y="1285.9" textLength="36.3" lengthAdjust="spacingAndGlyphs">Woeseia</text>
<text class="b" x="1175.7" y="1290.3" textLength="99.0" lengthAdjust="spacingAndGlyphs">Candidatus_Solibacter</text>
<text class="b" x="1163.7" y="1302.3" textLength="19.3" lengthAdjust="spacingAndGlyphs">TM7</text>
<text class="b" x="760.7" y="1307.3" textLength="45.3" lengthAdjust="spacingAndGlyphs">Nitrospina</text>
<text class="b" x="696.7" y="1311.6" textLength="44.0" lengthAdjust="spacingAndGlyphs">MBMPE27</text>
<text class="b" x="1194.7" y="1311.6" textLength="56.6" lengthAdjust="spacingAndGlyphs">Lactobacillus</text>
<text class="b" x="867.7" y="1317.3" textLength="80.0" lengthAdjust="spacingAndGlyphs">Nitrosopumilaceae</text>
<text class="b" x="740.0" y="1324.3" textLength="87.3" lengthAdjust="spacingAndGlyphs">EPR3968-O8a-Bc78</text>
<text class="b" x="1126.3" y="1326.3" textLength="74.0" lengthAdjust="spacingAndGlyphs">Brachybacterium</text>
<text class="b" x="1074.7" y="1329.6" textLength="45.0" lengthAdjust="spacingAndGlyphs">Reyranella</text>
<text class="b" x="768.3" y="1336.9" textLength="25.0" lengthAdjust="spacingAndGlyphs">NB1-j</text>
<text class="b" x="682.7" y="1339.6" textLength="52.3" lengthAdjust="spacingAndGlyphs">Subgroup_2</text>
<text class="b" x="1146.7" y="1339.9" textLength="40.3" lengthAdjust="spacingAndGlyphs">Vogesella</text>
<text class="b" x="692.3" y="1347.6" textLength="36.7" lengthAdjust="spacingAndGlyphs">wb1-A12</text>
<text class="b" x="755.7" y="1345.3" textLength="64.0" lengthAdjust="spacingAndGlyphs">SAR202_clade</text>
<text class="b" x="1230.0" y="1349.3" textLength="40.0" lengthAdjust="spacingAndGlyphs">Gemmata</text>
<text class="b" x="1255.7" y="1365.9" textLength="60.0" lengthAdjust="spacingAndGlyphs">Sphingomonas</text>
<text class="b" x="1199.7" y="1374.3" textLength="49.6" lengthAdjust="spacingAndGlyphs">MB-A2-108</text>
<text class="b" x="1257.0" y="1377.6" textLength="59.0" lengthAdjust="spacingAndGlyphs">Helicobacter</text>
<text class="b" x="1253.0" y="1381.6" textLength="150.3" lengthAdjust="spacingAndGlyphs">Methylobacterium-Methylorubrum</text>
<text class="b" x="1253.0" y="1381.6" textLength="69.0" lengthAdjust="spacingAndGlyphs">Bifidobacterium</text>
<text class="b" x="1253.0" y="1381.6" textLength="59.0" lengthAdjust="spacingAndGlyphs">Flectobacillus</text>
<text class="b" x="1253.0" y="1381.6" textLength="54.0" lengthAdjust="spacingAndGlyphs">Turicibacter</text>
<text class="b" x="1253.0" y="1381.6" textLength="49.0" lengthAdjust="spacingAndGlyphs">Monoglobus</text>
<text class="b" x="1253.0" y="1381.6" textLength="68.0" lengthAdjust="spacingAndGlyphs">Bradyrhizobium</text>
<text class="b" x="1253.0" y="1381.6" textLength="57.0" lengthAdjust="spacingAndGlyphs">Mitochondria</text>
<text class="b" x="1253.0" y="1381.6" textLength="49.0" lengthAdjust="spacingAndGlyphs">Chloroplast</text>
<text class="b" x="770.0" y="1387.3" textLength="52.0" lengthAdjust="spacingAndGlyphs">Kordiimonas</text>
<text class="b" x="679.3" y="1406.9" textLength="29.7" lengthAdjust="spacingAndGlyphs">JTB23</text>
<text class="b" x="763.3" y="1420.3" textLength="113.0" lengthAdjust="spacingAndGlyphs">Marine_Benthic_Group_A</text>
<text class="b" x="1139.3" y="1429.9" textLength="110.0" lengthAdjust="spacingAndGlyphs">Candidatus_Udaeobacter</text>
<text class="b" x="846.7" y="1449.6" textLength="144.0" lengthAdjust="spacingAndGlyphs">PAUC43f_marine_benthic_group</text>
<text class="b" x="950.0" y="1464.6" textLength="52.7" lengthAdjust="spacingAndGlyphs">Limibaculum</text>
<text class="b" x="657.7" y="1473.9" textLength="70.0" lengthAdjust="spacingAndGlyphs">Dadabacteriales</text>
<text class="b" x="622.7" y="1484.9" textLength="57.0" lengthAdjust="spacingAndGlyphs">KI89A_clade</text>
<text class="b" x="727.7" y="1494.3" textLength="57.6" lengthAdjust="spacingAndGlyphs">Subgroup_26</text>
<text class="b" x="601.3" y="1497.9" textLength="113.4" lengthAdjust="spacingAndGlyphs">BD2-11_terrestrial_group</text>
<text class="b" x="759.3" y="1502.3" textLength="22.4" lengthAdjust="spacingAndGlyphs">S085</text>
<text class="b" x="709.7" y="1514.3" textLength="53.3" lengthAdjust="spacingAndGlyphs">Pir4_lineage</text>
<text class="b" x="623.3" y="1562.9" textLength="61.7" lengthAdjust="spacingAndGlyphs">Blastopirellula</text>
<text class="b" x="678.3" y="1571.3" textLength="32.4" lengthAdjust="spacingAndGlyphs">KD4-96</text>
<text class="b" x="717.0" y="1571.3" textLength="118.3" lengthAdjust="spacingAndGlyphs">Candidatus_Nitrosopumilus</text>
<text class="b" x="608.7" y="1575.6" textLength="55.6" lengthAdjust="spacingAndGlyphs">Blastocatella</text>
<text class="b" x="585.7" y="1597.3" textLength="103.0" lengthAdjust="spacingAndGlyphs">Sva0996_marine_group</text>
<text class="b" x="717.7" y="1595.9" textLength="119.6" lengthAdjust="spacingAndGlyphs">Candidatus_Colwellbacteria</text>
<text class="b" x="667.7" y="1608.9" textLength="45.6" lengthAdjust="spacingAndGlyphs">Ulvibacter</text>
<text class="b" x="741.0" y="1615.6" textLength="167.0" lengthAdjust="spacingAndGlyphs">Urania-1B-19_marine_sediment_group</text>
<text class="b" x="592.3" y="1624.3" textLength="80.0" lengthAdjust="spacingAndGlyphs">Methyloligellaceae</text>
<text class="b" x="705.0" y="1626.9" textLength="56.0" lengthAdjust="spacingAndGlyphs">Subgroup_17</text>
<text class="b" x="589.0" y="1631.3" textLength="111.7" lengthAdjust="spacingAndGlyphs">UBA10353_marine_group</text>
<text class="b" x="691.0" y="1664.3" textLength="61.0" lengthAdjust="spacingAndGlyphs">Rhodopirellula</text>
<text class="b" x="648.0" y="1674.3" textLength="59.7" lengthAdjust="spacingAndGlyphs">Nitrosomonas</text>
<text class="b" x="736.7" y="1684.3" textLength="48.0" lengthAdjust="spacingAndGlyphs">Aquibacter</text>
<text class="b" x="598.0" y="1687.6" textLength="54.3" lengthAdjust="spacingAndGlyphs">PHOS-HE36</text>
<text class="b" x="660.7" y="1693.6" textLength="79.3" lengthAdjust="spacingAndGlyphs">Thermomarinilinea</text>
<text class="b" x="633.3" y="1705.3" textLength="29.0" lengthAdjust="spacingAndGlyphs">CCD24</text>
<text class="b" x="670.7" y="1712.3" textLength="63.0" lengthAdjust="spacingAndGlyphs">GWA2-38-13b</text>
<text class="b" x="663.0" y="1734.6" textLength="16.0" lengthAdjust="spacingAndGlyphs">C86</text>
<text class="b" x="686.7" y="1738.6" textLength="35.3" lengthAdjust="spacingAndGlyphs">DEV007</text>
<text class="b" x="692.0" y="1748.9" textLength="39.7" lengthAdjust="spacingAndGlyphs">PAUC26f</text>
<text class="b" x="270.6" y="1276.1" textLength="20.8" lengthAdjust="spacingAndGlyphs">LOM</text>
<text class="b" x="204.7" y="1329.6" textLength="17.9" lengthAdjust="spacingAndGlyphs">TOC</text>
<text class="b" x="137.0" y="1375.6" textLength="58.5" lengthAdjust="spacingAndGlyphs">Total Nitrate</text>
<text class="b" x="363.0" y="1380.4" textLength="14.0" lengthAdjust="spacingAndGlyphs">TN</text>
<text class="b" x="349.8" y="1436.6" textLength="69.7" lengthAdjust="spacingAndGlyphs">Total Phosphate</text>
<text class="b" x="1326.3" y="1502.9" textLength="67.4" lengthAdjust="spacingAndGlyphs">Jeotgalibacillus</text>
<text class="b" x="1446.3" y="1505.9" textLength="48.4" lengthAdjust="spacingAndGlyphs">Lentimonas</text>
<text class="b" x="1457.0" y="1516.9" textLength="47.7" lengthAdjust="spacingAndGlyphs">Shewanella</text>
<text class="b" x="1063.0" y="1568.6" textLength="130.0" lengthAdjust="spacingAndGlyphs">Candidatus_Yanofskybacteria</text>
<line x1="1015.2" y1="956.0" x2="1015.2" y2="1784.2" stroke="#4a4a4a" stroke-width="1.3"/>
<line x1="60.3" y1="1411.0" x2="1528.5" y2="1411.0" stroke="#4a4a4a" stroke-width="1.3"/>
<line x1="134.1" y1="1411.0" x2="134.1" y2="1415.3" stroke="#333" stroke-width="1"/>
<text class="k" x="125.1" y="1427.6" textLength="16.5" lengthAdjust="spacingAndGlyphs">-3.0</text>
<line x1="281.0" y1="1411.0" x2="281.0" y2="1415.3" stroke="#333" stroke-width="1"/>
<text class="k" x="271.9" y="1427.6" textLength="16.5" lengthAdjust="spacingAndGlyphs">-2.5</text>
<line x1="427.8" y1="1411.0" x2="427.8" y2="1415.3" stroke="#333" stroke-width="1"/>
<text class="k" x="418.8" y="1427.6" textLength="16.5" lengthAdjust="spacingAndGlyphs">-2.0</text>
<line x1="574.7" y1="1411.0" x2="574.7" y2="1415.3" stroke="#333" stroke-width="1"/>
<text class="k" x="565.6" y="1427.6" textLength="16.5" lengthAdjust="spacingAndGlyphs">-1.5</text>
<line x1="721.5" y1="1411.0" x2="721.5" y2="1415.3" stroke="#333" stroke-width="1"/>
<text class="k" x="712.5" y="1427.6" textLength="16.5" lengthAdjust="spacingAndGlyphs">-1.0</text>
<line x1="868.4" y1="1411.0" x2="868.4" y2="1415.3" stroke="#333" stroke-width="1"/>
<text class="k" x="859.3" y="1427.6" textLength="16.5" lengthAdjust="spacingAndGlyphs">-0.5</text>
<line x1="1162.0" y1="1411.0" x2="1162.0" y2="1415.3" stroke="#333" stroke-width="1"/>
<text class="k" x="1155.5" y="1427.6" textLength="13.0" lengthAdjust="spacingAndGlyphs">0.5</text>
<line x1="1308.9" y1="1411.0" x2="1308.9" y2="1415.3" stroke="#333" stroke-width="1"/>
<text class="k" x="1302.4" y="1427.6" textLength="13.0" lengthAdjust="spacingAndGlyphs">1.0</text>
<line x1="1010.7" y1="1079.8" x2="1015.2" y2="1079.8" stroke="#333" stroke-width="1"/>
<text class="k" x="996.0" y="1084.6" textLength="13.0" lengthAdjust="spacingAndGlyphs">2.0</text>
<line x1="1010.7" y1="1162.6" x2="1015.2" y2="1162.6" stroke="#333" stroke-width="1"/>
<text class="k" x="996.0" y="1167.4" textLength="13.0" lengthAdjust="spacingAndGlyphs">1.5</text>
<line x1="1010.7" y1="1245.4" x2="1015.2" y2="1245.4" stroke="#333" stroke-width="1"/>
<text class="k" x="996.0" y="1250.2" textLength="13.0" lengthAdjust="spacingAndGlyphs">1.0</text>
<line x1="1010.7" y1="1328.2" x2="1015.2" y2="1328.2" stroke="#333" stroke-width="1"/>
<text class="k" x="996.0" y="1333.0" textLength="13.0" lengthAdjust="spacingAndGlyphs">0.5</text>
<line x1="1010.7" y1="1493.8" x2="1015.2" y2="1493.8" stroke="#333" stroke-width="1"/>
<text class="k" x="992.5" y="1498.6" textLength="16.5" lengthAdjust="spacingAndGlyphs">-0.5</text>
<line x1="1010.7" y1="1576.6" x2="1015.2" y2="1576.6" stroke="#333" stroke-width="1"/>
<text class="k" x="992.5" y="1581.4" textLength="16.5" lengthAdjust="spacingAndGlyphs">-1.0</text>
<line x1="1010.7" y1="1659.4" x2="1015.2" y2="1659.4" stroke="#333" stroke-width="1"/>
<text class="k" x="992.5" y="1664.2" textLength="16.5" lengthAdjust="spacingAndGlyphs">-1.5</text>
<line x1="1010.7" y1="1742.2" x2="1015.2" y2="1742.2" stroke="#333" stroke-width="1"/>
<text class="k" x="992.5" y="1747.0" textLength="16.5" lengthAdjust="spacingAndGlyphs">-2.0</text>
<circle cx="974.0" cy="1171.0" r="2.1" fill="#000"/>
<text class="k" x="977.7" y="1178.6" textLength="16.3" lengthAdjust="spacingAndGlyphs" font-size="9.8">PS5</text>
<circle cx="766.0" cy="1367.0" r="2.1" fill="#000"/>
<text class="k" x="746.7" y="1370.9" textLength="15.6" lengthAdjust="spacingAndGlyphs" font-size="9.8">PS6</text>
<circle cx="785.7" cy="1370.0" r="2.1" fill="#000"/>
<text class="k" x="789.0" y="1376.9" textLength="16.7" lengthAdjust="spacingAndGlyphs" font-size="9.8">PS8</text>
<circle cx="1137.7" cy="1283.7" r="2.1" fill="#000"/>
<text class="k" x="1141.3" y="1290.9" textLength="16.7" lengthAdjust="spacingAndGlyphs" font-size="9.8">PS7</text>
<circle cx="742.0" cy="1481.7" r="2.1" fill="#000"/>
<text class="k" x="745.0" y="1487.6" textLength="16.7" lengthAdjust="spacingAndGlyphs" font-size="9.8">PS4</text>
<circle cx="735.3" cy="1519.0" r="2.1" fill="#000"/>
<text class="k" x="739.0" y="1525.9" textLength="16.3" lengthAdjust="spacingAndGlyphs" font-size="9.8">PS2</text>
<circle cx="746.7" cy="1552.7" r="2.1" fill="#000"/>
<text class="k" x="749.7" y="1559.6" textLength="16.6" lengthAdjust="spacingAndGlyphs" font-size="9.8">PS3</text>
<circle cx="718.7" cy="1577.7" r="2.1" fill="#000"/>
<text class="k" x="721.7" y="1584.9" textLength="15.0" lengthAdjust="spacingAndGlyphs" font-size="9.8">PS1</text>
<circle cx="1252.7" cy="1485.0" r="2.1" fill="#000"/>
<text class="k" x="1255.7" y="1492.6" textLength="21.3" lengthAdjust="spacingAndGlyphs" font-size="9.8">PS10</text>
<circle cx="1213.7" cy="1506.7" r="2.1" fill="#000"/>
<text class="k" x="1217.0" y="1513.9" textLength="21.0" lengthAdjust="spacingAndGlyphs" font-size="9.8">PS14</text>
<circle cx="1196.7" cy="1553.3" r="2.1" fill="#000"/>
<text class="k" x="1200.3" y="1560.9" textLength="19.7" lengthAdjust="spacingAndGlyphs" font-size="9.8">PS11</text>
<circle cx="1412.3" cy="1503.3" r="2.1" fill="#000"/>
<text class="k" x="1401.3" y="1500.9" textLength="16.7" lengthAdjust="spacingAndGlyphs" font-size="9.8">PS9</text>
<circle cx="1431.0" cy="1506.0" r="2.1" fill="#000"/>
<text class="k" x="1419.7" y="1503.6" textLength="20.6" lengthAdjust="spacingAndGlyphs" font-size="9.8">PS12</text>
<circle cx="1422.7" cy="1507.0" r="2.1" fill="#000"/>
<text class="k" x="1401.3" y="1517.3" textLength="20.4" lengthAdjust="spacingAndGlyphs" font-size="9.8">PS13</text>
<text class="k" font-style="italic" x="782" y="1814.5" textLength="26.5" lengthAdjust="spacingAndGlyphs">Axis 1</text>
<text class="k" font-style="italic" transform="translate(32.1,1370) rotate(-90)" x="-13.5" y="0" textLength="27" lengthAdjust="spacingAndGlyphs">Axis 2</text>
</svg>
</body></html>
